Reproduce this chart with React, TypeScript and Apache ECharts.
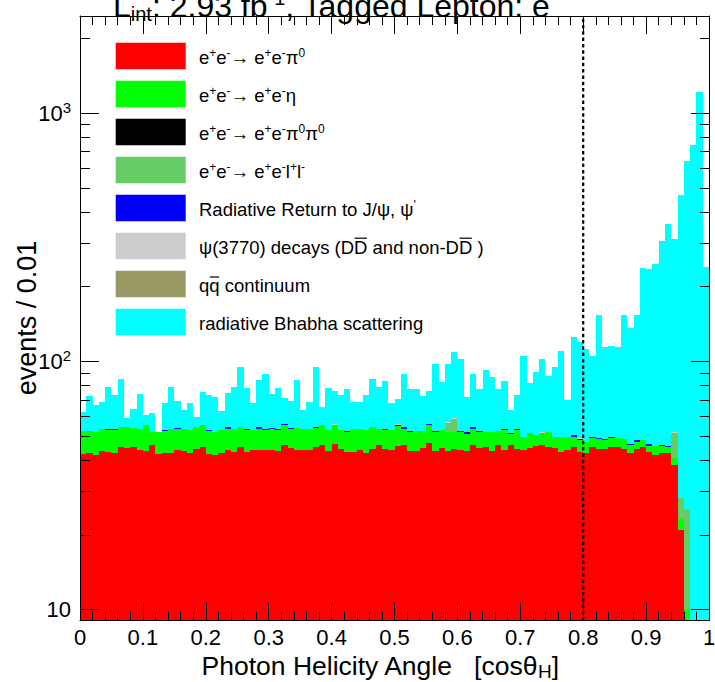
import React, { useEffect, useRef } from "react";
import * as echarts from "echarts";

const W = 715;
const H = 682;
const FONT = '"Liberation Sans", Arial, Helvetica, sans-serif';

// ---- axes ----
const X_MIN = 0;
const X_MAX = 1;
const X_INTERVAL = 0.1;
const BIN_WIDTH = 0.01;
const Y_MIN = 9.0;
const Y_MAX = 2460;
const CUT_VALUE = 0.8;
const yMajorTicks = [10, 100, 1000];
const yMinorTicks = [20, 30, 40, 50, 60, 70, 80, 90, 200, 300, 400, 500, 600, 700, 800, 900, 2000];

// ---- histogram contents (events per 0.01 bin, 100 bins from 0 to 1) ----
const pi0 = [
  42.2, 42.5, 41.8, 43.6, 43.1, 42.5, 44.9, 44.5, 44.9, 43.9,
  43.5, 45.8, 42.2, 42.5, 42.5, 44.0, 43.6, 42.8, 44.4, 44.9,
  42.2, 41.8, 42.8, 43.9, 43.1, 45.2, 43.0, 43.9, 43.9, 43.9,
  43.9, 43.5, 45.8, 44.5, 43.9, 43.9, 43.9, 45.2, 45.8, 43.5,
  46.3, 44.2, 43.1, 43.1, 43.9, 42.5, 44.2, 46.1, 44.4, 43.9,
  45.5, 45.8, 43.5, 43.5, 44.5, 46.7, 43.5, 44.5, 43.5, 44.2,
  43.9, 43.5, 45.8, 44.5, 45.2, 43.5, 45.8, 43.9, 45.8, 44.2,
  43.9, 44.5, 45.5, 45.8, 44.9, 44.5, 43.1, 43.9, 44.9, 43.1,
  42.6, 44.9, 44.4, 44.4, 45.3, 45.3, 44.4, 42.6, 44.4, 44.9,
  43.1, 41.8, 42.8, 42.6, 38.0, 20.8, 0, 0, 0, 0,
];
const eta = [
  10.2, 9.9, 9.8, 9.6, 9.8, 10.1, 9.6, 9.6, 9.1, 9.6,
  12.0, 6.1, 9.7, 9.8, 11.0, 9.4, 9.9, 10.1, 10.1, 10.2,
  10.1, 10.1, 10.1, 9.6, 10.4, 9.3, 9.6, 9.0, 9.6, 9.0,
  9.5, 9.1, 9.6, 8.9, 9.9, 9.6, 9.6, 8.7, 9.3, 9.4,
  9.1, 8.7, 8.7, 10.1, 9.3, 10.4, 10.3, 7.4, 8.5, 9.0,
  9.1, 7.7, 8.1, 8.9, 7.9, 8.6, 8.1, 8.2, 8.1, 7.4,
  7.9, 7.5, 7.7, 7.3, 6.7, 8.1, 6.6, 8.7, 4.9, 8.4,
  5.8, 6.8, 4.8, 5.4, 7.0, 5.2, 6.6, 5.8, 4.8, 5.1,
  4.7, 4.2, 4.2, 3.8, 3.8, 3.9, 4.1, 3.2, 3.0, 3.1,
  2.6, 3.7, 2.6, 2.3, 2.7, 2.4, 10.0, 0, 0, 0,
];
const pi0pi0 = [
  0, 0, 0, 0, 0, 0, 0, 0, 0, 0, 0, 0, 0, 0, 0, 0, 0, 0, 0, 0,
  0, 0, 0, 0, 0, 0, 0, 0, 0, 0, 0, 0, 0, 0, 0, 0, 0, 0, 0, 0,
  0, 0, 0, 0, 0, 0, 0, 0, 0, 0, 0, 0, 0, 0, 0, 0, 0, 0, 0, 0,
  0, 0, 0, 0, 0, 0, 0, 0, 0, 0, 0, 0, 0, 0, 0, 0, 0, 0, 0, 0,
  0, 0, 0, 0, 0, 0, 0, 0, 0, 0, 0, 0, 0, 0, 0, 0, 0, 0, 0, 0,
];
const llbar = [
  0, 0, 0, 0, 0, 0, 0, 0, 0, 0, 0, 0, 0, 0, 0, 0, 0, 0, 0, 0,
  0, 0, 0, 0, 0, 0, 0, 0, 0, 0, 0, 0, 0, 0, 0, 0, 0, 0, 0, 0,
  0, 0, 0, 0, 0, 0, 0, 0, 0, 0, 0, 0, 0, 0, 0, 0, 0, 0, 5.0, 6.8,
  0, 0, 0, 0, 0, 0, 0, 0, 0, 0, 0, 0, 0, 0, 0, 0, 0, 0, 0, 0,
  0, 0, 0, 0, 0, 0, 0, 0, 0, 0, 0, 0, 0, 0, 10.6, 5.0, 15.3, 0, 0, 0,
];
const radReturn = [
  0, 0, 0, 0, 0.6, 0.6, 0, 0, 0, 0, 0, 0, 0, 0.6, 0, 0.6, 0, 0, 0, 0,
  0.6, 0, 0, 0.6, 0, 0, 0.6, 0, 0.6, 0.6, 0.6, 0.6, 0.6, 0.6, 0, 0, 0, 0.6, 0, 0,
  0, 0, 0.6, 0, 0, 0, 0, 0, 0.6, 0, 0.6, 0.6, 0.6, 0, 0, 0.6, 0.6, 0, 0, 0,
  0.6, 0.6, 0.6, 0.6, 0, 0, 0, 0.6, 0.6, 0.6, 0, 0, 0, 0, 0, 0, 0, 0, 0.6, 0.6,
  0, 0.6, 0.6, 0.6, 0.6, 0, 0, 0.6, 0.6, 0, 0.6, 0, 0.6, 0.6, 0, 0, 0, 0, 0, 0,
];
const psi3770 = [
  0, 0, 0, 0, 0, 0, 0, 0, 0, 0, 0, 0, 0, 0, 0, 0, 0, 0, 0, 0,
  0, 0, 0, 0, 0, 0, 0, 0, 0, 0, 0, 0, 0, 0, 0, 0, 0, 0, 0, 0,
  0.4, 0, 0, 0, 0, 0, 0, 0, 0, 0, 0.4, 0, 0, 0, 0, 0, 0, 0, 0.4, 0.4,
  0, 0, 0, 0, 0, 0, 0, 0, 0, 0, 0, 0, 0, 0.4, 0, 0, 0, 0, 0, 0.4,
  0, 0, 0, 0, 0, 0, 0, 0, 0, 0, 0, 0, 0, 0, 0.5, 0, 0, 0, 0, 0,
];
const qqContinuum = [
  0, 0, 0, 0, 0, 0, 0, 0, 0, 0, 0, 0, 0, 0, 0, 0, 0, 0, 0, 0,
  0, 0, 0, 0, 0, 0, 0, 0, 0, 0, 0, 0, 0, 0, 0, 0, 0, 0, 0, 0,
  0, 0, 0, 0, 0, 0, 0, 0, 0, 0, 0, 0, 0, 0, 0, 0, 0, 0, 0, 0,
  0, 0, 0, 0, 0, 0, 0, 0, 0, 0, 0, 0, 0, 0, 0, 0, 0, 0, 0, 0,
  0, 0, 0, 0, 0, 0, 0, 0, 0, 0, 0, 0, 0, 0, 0, 0, 0, 0, 0, 0,
];
const bhabha = [
  10, 20, 15, 15, 25, 20, 30, 5, 10, 20,
  5, 10, 0, 15, 25, 15, 10, 15, 5, 20,
  20, 20, 10, 20, 25, 40, 25, 15, 30, 35,
  20, 25, 15, 15, 30, 10, 15, 40, 10, 25,
  20, 20, 25, 15, 15, 20, 30, 25, 30, 15,
  15, 35, 25, 25, 20, 20, 45, 30, 40, 50,
  50, 20, 35, 25, 40, 35, 25, 30, 12, 20,
  55, 30, 40, 50, 35, 45, 60, 20, 75, 70,
  65, 55, 105, 65, 65, 65, 105, 90, 105, 190,
  190, 200, 260, 310, 260, 440, 615, 742, 1219, 240,
];

const COMPONENTS = [
  { key: "pi0", color: "#ff0000", values: pi0 },
  { key: "eta", color: "#00ff00", values: eta },
  { key: "pi0pi0", color: "#000000", values: pi0pi0 },
  { key: "llbar", color: "#66cc66", values: llbar },
  { key: "radReturn", color: "#0000ff", values: radReturn },
  { key: "psi3770", color: "#cccccc", values: psi3770 },
  { key: "qq", color: "#999966", values: qqContinuum },
  { key: "bhabha", color: "#00ffff", values: bhabha },
];

const LEGEND_TEXTS = [
  "e{sup|+}e{sup|-}\u2192 e{sup|+}e{sup|-}\u03c0{sup|0}",
  "e{sup|+}e{sup|-}\u2192 e{sup|+}e{sup|-}\u03b7",
  "e{sup|+}e{sup|-}\u2192 e{sup|+}e{sup|-}\u03c0{sup|0}\u03c0{sup|0}",
  "e{sup|+}e{sup|-}\u2192 e{sup|+}e{sup|-}l{sup|+}l{sup|-}",
  "Radiative Return to J/\u03c8, \u03c8{sup|'}",
  "\u03c8(3770) decays (DD and non-DD\u00a0)",
  "qq continuum",
  "radiative Bhabha scattering",
];

const TITLE = "L{sub|int}: 2.93 fb{sup|-1}, Tagged Lepton: e{sup|-}";
const X_TITLE = "Photon Helicity Angle\u00a0\u00a0\u00a0[cos\u03b8{sub|H}]";
const Y_TITLE = "events / 0.01";

const GRID = { left: 80, top: 16, width: 629, height: 604.7 };
const LEG = { boxX: 115.7, boxW: 70, boxH: 26.7, firstCenter: 56, step: 38, textX: 199, fontSize: 18.5 };

function measure(text: string, size: number) {
  const c = document.createElement("canvas").getContext("2d")!;
  c.font = `${size}px "Liberation Sans"`;
  return c.measureText(text).width;
}

export default function App() {
  const ref = useRef<HTMLDivElement>(null);
  useEffect(() => {
    document.body.style.margin = "0";
    const chart = echarts.init(ref.current!, null, { renderer: "svg", width: W, height: H });

    const cum = new Array(pi0.length).fill(0);
    const histSeries = COMPONENTS.map((c) => {
      const data = c.values.map((v, i) => {
        const lo = cum[i];
        const hi = lo + v;
        cum[i] = hi;
        return [i * BIN_WIDTH, lo, hi];
      });
      return {
        type: "custom",
        name: c.key,
        xAxisIndex: 0,
        yAxisIndex: 0,
        z: 2,
        silent: true,
        encode: { x: 0, y: 2 },
        data,
        renderItem: (_p: any, api: any) => {
          const x0 = api.value(0) as number;
          const lo = api.value(1) as number;
          const hi = api.value(2) as number;
          if (!(hi > lo) || hi <= Y_MIN) return { type: "group", children: [] };
          const a = api.coord([x0, Math.max(lo, Y_MIN)]);
          const b = api.coord([x0 + BIN_WIDTH, Math.min(hi, Y_MAX)]);
          const xl = Math.round(a[0]);
          const xr = Math.round(b[0]);
          const yb = Math.round(a[1]);
          const yt = Math.round(b[1]);
          if (yb - yt <= 0) return { type: "group", children: [] };
          return {
            type: "rect",
            shape: { x: xl, y: yt, width: xr - xl, height: yb - yt },
            style: { fill: c.color },
          };
        },
      };
    });

    const tickData = [
      ...yMajorTicks.map((v) => [0, v, 1]),
      ...yMinorTicks.map((v) => [0, v, 0]),
    ];
    const tickSeries = {
      type: "custom",
      xAxisIndex: 0,
      yAxisIndex: 0,
      z: 8,
      silent: true,
      encode: { x: 0, y: 1 },
      data: tickData,
      renderItem: (_p: any, api: any) => {
        const v = api.value(1) as number;
        const major = api.value(2) === 1;
        const l = api.coord([X_MIN, v]);
        const r = api.coord([X_MAX, v]);
        const y = Math.round(l[1]) + 0.5;
        return {
          type: "group",
          children: [
            { type: "line", shape: { x1: l[0], y1: y, x2: l[0] + (major ? 19 : 10), y2: y }, style: { stroke: "#000", lineWidth: 1 } },
            { type: "line", shape: { x1: r[0], y1: y, x2: r[0] - (major ? 18 : 9), y2: y }, style: { stroke: "#000", lineWidth: 1 } },
          ],
        };
      },
    };

    const cutSeries = {
      type: "custom",
      xAxisIndex: 0,
      yAxisIndex: 0,
      z: 9,
      silent: true,
      encode: { x: 0, y: 1 },
      data: [[CUT_VALUE, Y_MIN]],
      renderItem: (_p: any, api: any) => {
        const a = api.coord([api.value(0), Y_MIN]);
        const b = api.coord([api.value(0), Y_MAX]);
        return {
          type: "line",
          shape: { x1: a[0], y1: a[1], x2: b[0], y2: b[1] },
          style: { stroke: "#000", lineWidth: 2.2, lineDash: [3.5, 2.8] },
        };
      },
    };

    // legend graphics
    const legendEls: any[] = [];
    LEGEND_TEXTS.forEach((t, i) => {
      const cy = LEG.firstCenter + LEG.step * i;
      legendEls.push({
        type: "rect",
        shape: { x: LEG.boxX, y: cy - LEG.boxH / 2, width: LEG.boxW, height: LEG.boxH },
        style: { fill: COMPONENTS[i].color },
        z: 20,
      });
      legendEls.push({
        type: "text",
        x: LEG.textX,
        y: cy + 1.5,
        z: 20,
        style: {
          text: t,
          fill: "#000",
          fontFamily: FONT,
          fontSize: LEG.fontSize,
          lineHeight: 22,
          verticalAlign: "middle",
          align: "left",
          rich: {
            sup: { fontFamily: FONT, fontSize: 12, lineHeight: 12, verticalAlign: "top", fill: "#000" },
          },
        },
      });
    });
    // overlines (bar) for D-bar and q-bar
    const overline = (row: number, prefix: string, ch: string, dy: number) => {
      const cy = LEG.firstCenter + LEG.step * row + 1.5;
      const x1 = LEG.textX + measure(prefix, LEG.fontSize);
      const x2 = x1 + measure(ch, LEG.fontSize);
      legendEls.push({
        type: "line",
        z: 20,
        shape: { x1: x1 + 0.5, y1: cy + dy, x2: x2 - 0.5, y2: cy + dy },
        style: { stroke: "#000", lineWidth: 1.2 },
      });
    };
    overline(5, "\u03c8(3770) decays (D", "D", -9.3);
    overline(5, "\u03c8(3770) decays (DD and non-D", "D", -9.3);
    overline(6, "q", "q", -8.5);

    const titleEls: any[] = [
      {
        type: "text",
        x: 113,
        y: 6,
        z: 20,
        style: {
          text: TITLE,
          fill: "#000",
          fontFamily: FONT,
          fontSize: 32,
          lineHeight: 36,
          verticalAlign: "middle",
          align: "left",
          rich: {
            sub: { fontFamily: FONT, fontSize: 20, lineHeight: 14, verticalAlign: "bottom", fill: "#000" },
            sup: { fontFamily: FONT, fontSize: 20, lineHeight: 14, verticalAlign: "top", fill: "#000" },
          },
        },
      },
      {
        type: "text",
        x: 380,
        y: 666,
        z: 20,
        style: {
          text: X_TITLE,
          fill: "#000",
          fontFamily: FONT,
          fontSize: 26.5,
          lineHeight: 30,
          verticalAlign: "middle",
          align: "center",
          rich: {
            sub: { fontFamily: FONT, fontSize: 19, lineHeight: 14, verticalAlign: "bottom", fill: "#000" },
          },
        },
      },
      {
        type: "text",
        x: 27,
        y: 318,
        rotation: Math.PI / 2,
        z: 20,
        style: {
          text: Y_TITLE,
          fill: "#000",
          fontFamily: FONT,
          fontSize: 27,
          verticalAlign: "middle",
          align: "center",
        },
      },
    ];

    const xAxisCommon = {
      type: "value",
      min: X_MIN,
      max: X_MAX,
      interval: X_INTERVAL,
      z: 5,
      axisLine: { show: true, onZero: false, lineStyle: { color: "#000", width: 1 } },
      axisTick: { show: true, inside: true, length: 18, lineStyle: { color: "#000", width: 1 } },
      minorTick: { show: true, splitNumber: 5, length: 9, lineStyle: { color: "#000", width: 1 } },
      splitLine: { show: false },
      minorSplitLine: { show: false },
    };
    const yAxisCommon = {
      type: "log",
      logBase: 10,
      min: Y_MIN,
      max: Y_MAX,
      z: 5,
      axisLine: { show: true, onZero: false, lineStyle: { color: "#000", width: 1 } },
      axisTick: { show: false },
      minorTick: { show: false },
      splitLine: { show: false },
      minorSplitLine: { show: false },
    };

    chart.setOption({
      animation: false,
      backgroundColor: "#ffffff",
      textStyle: { fontFamily: FONT },
      grid: { ...GRID, outerBoundsMode: "none", containLabel: false, show: false },
      xAxis: [
        {
          ...xAxisCommon,
          position: "bottom",
          axisLabel: {
            show: true,
            margin: 6,
            color: "#000",
            fontFamily: FONT,
            fontSize: 22,
            formatter: (v: number) => String(Math.round(v * 10) / 10),
          },
        },
        { ...xAxisCommon, position: "top", axisLabel: { show: false } },
      ],
      yAxis: [
        {
          ...yAxisCommon,
          position: "left",
          axisLabel: {
            show: true,
            margin: 9,
            color: "#000",
            fontFamily: FONT,
            fontSize: 22,
            lineHeight: 26,
            formatter: (v: number) => {
              const l = Math.log10(v);
              const r = Math.round(l);
              if (Math.abs(l - r) > 1e-6) return "";
              if (r === 1) return "10";
              return "10{sup|" + r + "}";
            },
            rich: {
              sup: { fontFamily: FONT, fontSize: 15, lineHeight: 14, verticalAlign: "top", color: "#000" },
            },
          },
        },
        { ...yAxisCommon, position: "right", axisLabel: { show: false } },
      ],
      series: [...histSeries, tickSeries, cutSeries],
      graphic: [...legendEls, ...titleEls],
    });

    return () => chart.dispose();
  }, []);
  return <div ref={ref} style={{ width: W, height: H, background: "#fff", overflow: "hidden" }} />;
}
